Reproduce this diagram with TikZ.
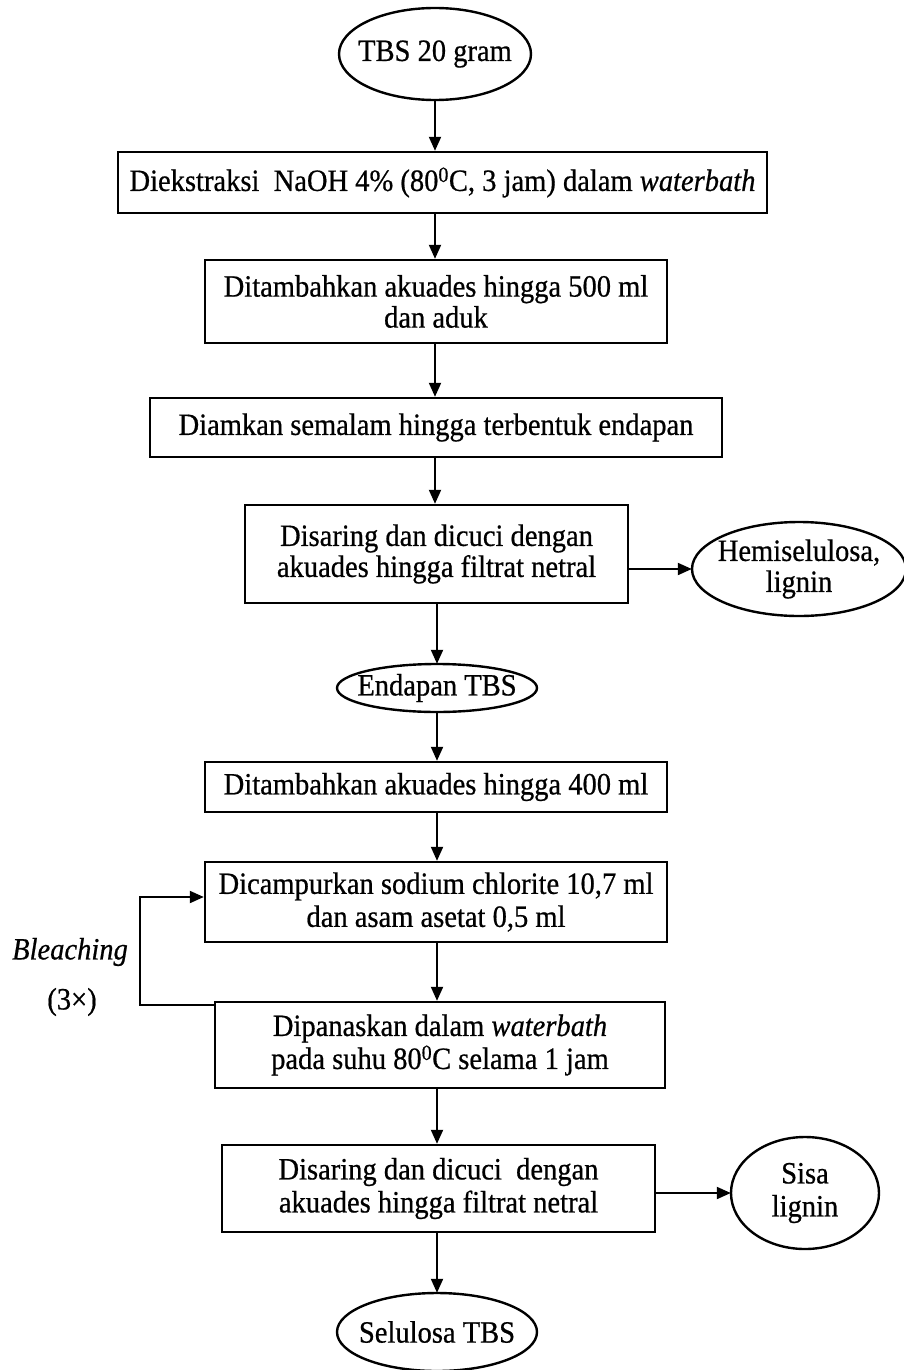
\documentclass[tikz,border=0pt]{standalone}
\usepackage{fontspec}
\setmainfont{Liberation Serif}[FakeStretch=0.92,FakeBold=0.6]
\usetikzlibrary{shapes.geometric,arrows.meta}
\begin{document}
\begin{tikzpicture}[x=1pt,y=-1pt,
  every node/.style={font=\fontsize{31}{36}\selectfont, align=center},
  procbox/.style={draw, line width=2.4pt, inner sep=0pt},
  term/.style={inner sep=0pt},
  ell/.style={line width=2.4pt},
  arr/.style={line width=2pt, -{Triangle[length=14pt,width=12pt]}}]
\useasboundingbox (0,0) rectangle (903,1370);
\fill[white] (0,0) rectangle (903,1370);

\node[term, minimum width=192pt, minimum height=92pt] (e1) at (435,54) {TBS 20 gram};
\node[procbox, minimum width=649pt, minimum height=61pt] (b1) at (442.5,182.5) {Diekstraksi\ \ NaOH 4\% (80\textsuperscript{0}C, 3 jam) dalam \textit{waterbath}};
\node[procbox, minimum width=462pt, minimum height=83pt] (b2) at (436,301.5) {Ditambahkan akuades hingga 500 ml\\[-5pt]dan aduk};
\node[procbox, minimum width=572pt, minimum height=59pt] (b3) at (436,427.5) {Diamkan semalam hingga terbentuk endapan};
\node[procbox, minimum width=383pt, minimum height=98pt] (b4) at (436.5,554) {Disaring dan dicuci dengan\\[-5pt]akuades hingga filtrat netral};
\node[term, minimum width=214pt, minimum height=94pt] (e2) at (799,569) {Hemiselulosa,\\[-5pt]lignin};
\node[term, minimum width=200pt, minimum height=48pt] (e3) at (437,688) {Endapan TBS};
\node[procbox, minimum width=462pt, minimum height=50pt] (b5) at (436,787) {Ditambahkan akuades hingga 400 ml};
\node[procbox, minimum width=462pt, minimum height=80pt] (b6) at (436,902) {Dicampurkan sodium chlorite 10,7 ml\\[-3pt]dan asam asetat 0,5 ml};
\node[procbox, minimum width=450pt, minimum height=86pt] (b7) at (440,1045) {Dipanaskan dalam \textit{waterbath}\\[-3pt]pada suhu 80\textsuperscript{0}C selama 1 jam};
\node[procbox, minimum width=433pt, minimum height=87pt] (b8) at (438.5,1188.5) {Disaring dan dicuci\ \ dengan\\[-3pt]akuades hingga filtrat netral};
\node[term, minimum width=148pt, minimum height=112pt] (e4) at (805,1193) {Sisa\\[-3pt]lignin};
\node[term, minimum width=200pt, minimum height=78pt] (e5) at (437,1332) {Selulosa TBS};

\draw[ell] (e1.center) ellipse [x radius=96, y radius=46];
\draw[ell] (e2.center) ellipse [x radius=107, y radius=47];
\draw[ell] (e3.center) ellipse [x radius=100, y radius=24];
\draw[ell] (e4.center) ellipse [x radius=74, y radius=56];
\draw[ell] (e5.center) ellipse [x radius=100, y radius=39];

\node (bl) at (70,952) {\textit{Bleaching}};
\node (tx) at (72,1002) {(3×)};

\draw[arr] (e1.south) -- (e1 |- b1.north);
\draw[arr] (e1 |- b1.south) -- (e1 |- b2.north);
\draw[arr] (e1 |- b2.south) -- (e1 |- b3.north);
\draw[arr] (e1 |- b3.south) -- (e1 |- b4.north);
\draw[arr] (b4.east |- e2.west) -- (e2.west);
\draw[arr] (e3 |- b4.south) -- (e3.north);
\draw[arr] (e3.south) -- (e3 |- b5.north);
\draw[arr] (e3 |- b5.south) -- (e3 |- b6.north);
\draw[arr] (e3 |- b6.south) -- (e3 |- b7.north);
\draw[arr] (e3 |- b7.south) -- (e3 |- b8.north);
\draw[arr] (b8.east |- e4.west) -- (e4.west);
\draw[arr] (e3 |- b8.south) -- (e5.north);

\coordinate (l1) at (140,1005);
\coordinate (l2) at (140,897);
\draw[arr] (b7.west |- l1) -- (l1) -- (l2) -- (b6.west |- l2);
\end{tikzpicture}
\end{document}
